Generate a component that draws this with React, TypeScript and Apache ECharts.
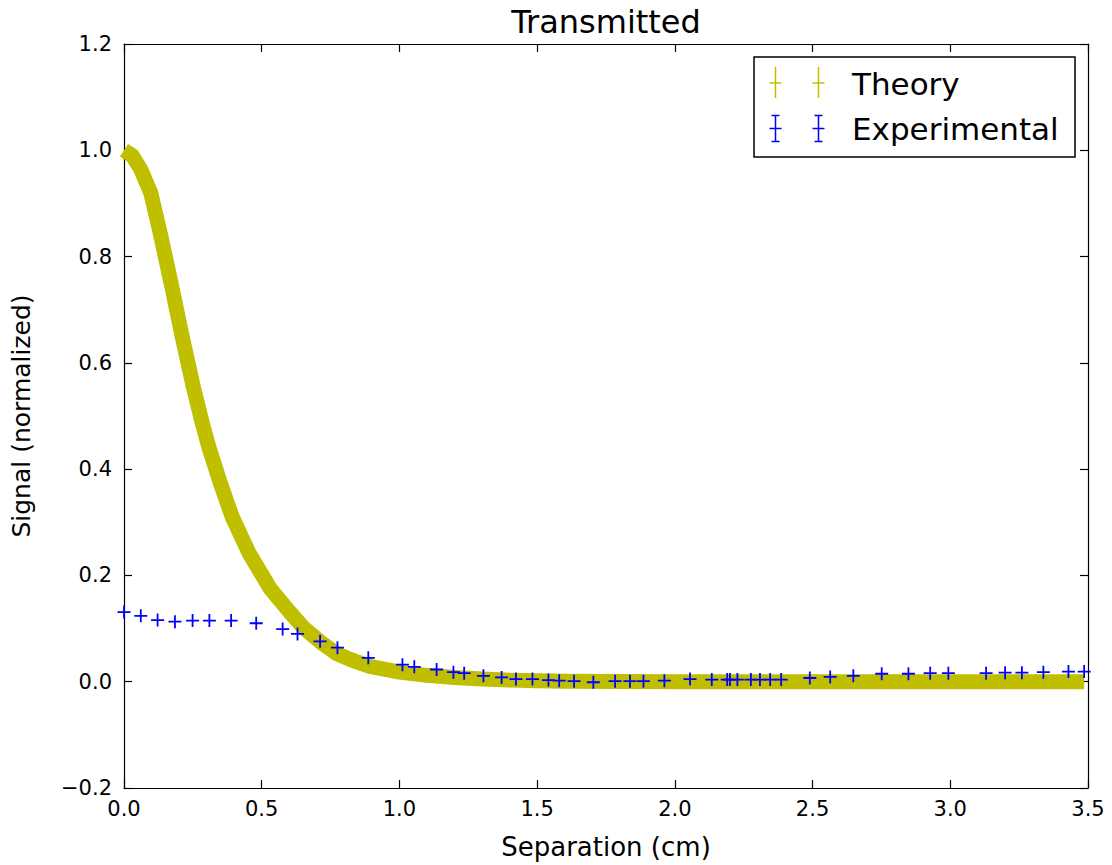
import React, { useEffect, useRef } from 'react';
import * as echarts from 'echarts';

const FONT = 'DejaVu Sans';
const OLIVE = '#bfbf00';
const BLUE = '#0000ff';

// Theory curve
const theoryX = [0.0, 0.03, 0.06, 0.097, 0.131, 0.173, 0.211, 0.251, 0.284, 0.309, 0.349, 0.393, 0.454, 0.53, 0.6, 0.651, 0.72, 0.772, 0.83, 0.893, 1.0, 1.1, 1.2, 1.3, 1.4, 1.5, 1.6, 1.8, 2.0, 2.5, 3.0, 3.486];
const theoryY = [1.0, 0.99, 0.965, 0.92, 0.845, 0.745, 0.65, 0.556, 0.487, 0.44, 0.375, 0.31, 0.242, 0.176, 0.132, 0.102, 0.072, 0.053, 0.04, 0.029, 0.018, 0.012, 0.008, 0.005, 0.003, 0.002, 0.001, 0.0005, 0.0, 0.0, 0.0, 0.0];

// Experimental points
const expX = [0.0, 0.061, 0.122, 0.185, 0.249, 0.31, 0.389, 0.48, 0.576, 0.63, 0.712, 0.775, 0.887, 1.011, 1.054, 1.135, 1.196, 1.235, 1.305, 1.371, 1.423, 1.483, 1.541, 1.58, 1.634, 1.704, 1.783, 1.837, 1.886, 1.962, 2.055, 2.134, 2.19, 2.2, 2.227, 2.276, 2.309, 2.346, 2.386, 2.49, 2.564, 2.648, 2.751, 2.848, 2.927, 2.993, 3.13, 3.199, 3.26, 3.338, 3.429, 3.486];
const expY = [0.131, 0.124, 0.116, 0.113, 0.115, 0.115, 0.115, 0.11, 0.099, 0.09, 0.076, 0.064, 0.045, 0.032, 0.028, 0.023, 0.018, 0.016, 0.011, 0.008, 0.005, 0.005, 0.003, 0.002, 0.001, -0.001, 0.001, 0.001, 0.001, 0.002, 0.005, 0.004, 0.004, 0.004, 0.004, 0.004, 0.004, 0.004, 0.004, 0.007, 0.009, 0.011, 0.015, 0.015, 0.016, 0.016, 0.016, 0.017, 0.017, 0.018, 0.019, 0.019];

const titleText = 'Transmitted';
const xName = 'Separation (cm)';
const yName = 'Signal (normalized)';
const legendNames = ['Theory', 'Experimental'];

const fmt = (v: number) => (Math.abs(v) < 1e-9 ? 0 : v).toFixed(1).replace('-', '\u2212');

export default function App() {
  const ref = useRef<HTMLDivElement>(null);
  useEffect(() => {
    document.body.style.margin = '0';
    const chart = echarts.init(ref.current!, undefined, { renderer: 'svg' });
    const axisCommon = {
      type: 'value' as const,
      splitLine: { show: false },
      axisLine: { show: true, onZero: false, lineStyle: { color: '#000', width: 1.2 } },
      axisTick: { show: true, inside: true, length: 8, lineStyle: { color: '#000', width: 1.2 } },
    };
    const iconLine = (x1: number, y1: number, x2: number, y2: number, c: string) => ({
      type: 'line',
      shape: { x1, y1, x2, y2 },
      style: { stroke: c, lineWidth: 1.5 },
      z: 11,
    });
    chart.setOption({
      animation: false,
      backgroundColor: '#fff',
      title: {
        text: titleText,
        left: 601,
        top: 1,
        textAlign: 'center',
        textStyle: { fontSize: 32, fontWeight: 'normal', fontFamily: FONT, color: '#000' },
      },
      grid: { left: 124, right: 24, top: 44, bottom: 76 },
      xAxis: [
        {
          ...axisCommon,
          min: 0,
          max: 3.5,
          interval: 0.5,
          position: 'bottom',
          name: xName,
          nameLocation: 'middle',
          nameGap: 46,
          nameTextStyle: { fontSize: 26, fontFamily: FONT, color: '#000' },
          axisLabel: { formatter: fmt, fontSize: 21, fontFamily: FONT, color: '#000', margin: 10 },
        },
        {
          ...axisCommon,
          min: 0,
          max: 3.5,
          interval: 0.5,
          position: 'top',
          axisLabel: { show: false },
        },
      ],
      yAxis: [
        {
          ...axisCommon,
          min: -0.2,
          max: 1.2,
          interval: 0.2,
          position: 'left',
          name: yName,
          nameLocation: 'middle',
          nameGap: 90,
          nameTextStyle: { fontSize: 25, fontFamily: FONT, color: '#000' },
          axisLabel: { formatter: fmt, fontSize: 21, fontFamily: FONT, color: '#000', margin: 12 },
        },
        {
          ...axisCommon,
          min: -0.2,
          max: 1.2,
          interval: 0.2,
          position: 'right',
          axisLabel: { show: false },
        },
      ],
      series: [
        {
          name: legendNames[0],
          type: 'line',
          xAxisIndex: 0,
          yAxisIndex: 0,
          data: theoryX.map((x, i) => [x, theoryY[i]]),
          showSymbol: false,
          symbol: 'none',
          smooth: false,
          lineStyle: { color: OLIVE, width: 15, join: 'round' },
          z: 2,
        },
        {
          name: legendNames[1],
          type: 'scatter',
          xAxisIndex: 0,
          yAxisIndex: 0,
          data: expX.map((x, i) => [x, expY[i]]),
          symbol: 'path://M5.6,0h1.8v13h-1.8z M0,5.6h13v1.8h-13z',
          symbolSize: 13,
          itemStyle: { color: BLUE, opacity: 1 },
          z: 3,
        },
      ],
      graphic: [
        {
          type: 'rect',
          shape: { x: 754, y: 57, width: 321, height: 100 },
          style: { fill: '#fff', stroke: '#000', lineWidth: 1.5 },
          z: 10,
        },
        // Theory icon
        iconLine(775.5, 67, 775.5, 98, OLIVE),
        iconLine(769.5, 83, 781.5, 83, OLIVE),
        iconLine(818.5, 67, 818.5, 98, OLIVE),
        iconLine(812.5, 83, 824.5, 83, OLIVE),
        // Experimental icon
        iconLine(775.5, 115, 775.5, 142, BLUE),
        iconLine(771.5, 115.5, 779.5, 115.5, BLUE),
        iconLine(771.5, 141.5, 779.5, 141.5, BLUE),
        iconLine(769.5, 128.5, 781.5, 128.5, BLUE),
        iconLine(818.5, 115, 818.5, 142, BLUE),
        iconLine(814.5, 115.5, 822.5, 115.5, BLUE),
        iconLine(814.5, 141.5, 822.5, 141.5, BLUE),
        iconLine(812.5, 128.5, 824.5, 128.5, BLUE),
        {
          type: 'text',
          x: 852,
          y: 84,
          style: { text: legendNames[0], fontSize: 31, fontFamily: FONT, fill: '#000', align: 'left', verticalAlign: 'middle' },
          z: 11,
        },
        {
          type: 'text',
          x: 852,
          y: 129,
          style: { text: legendNames[1], fontSize: 31, fontFamily: FONT, fill: '#000', align: 'left', verticalAlign: 'middle' },
          z: 11,
        },
      ],
    });
    return () => chart.dispose();
  }, []);
  return <div ref={ref} style={{ width: 1112, height: 865 }} />;
}
